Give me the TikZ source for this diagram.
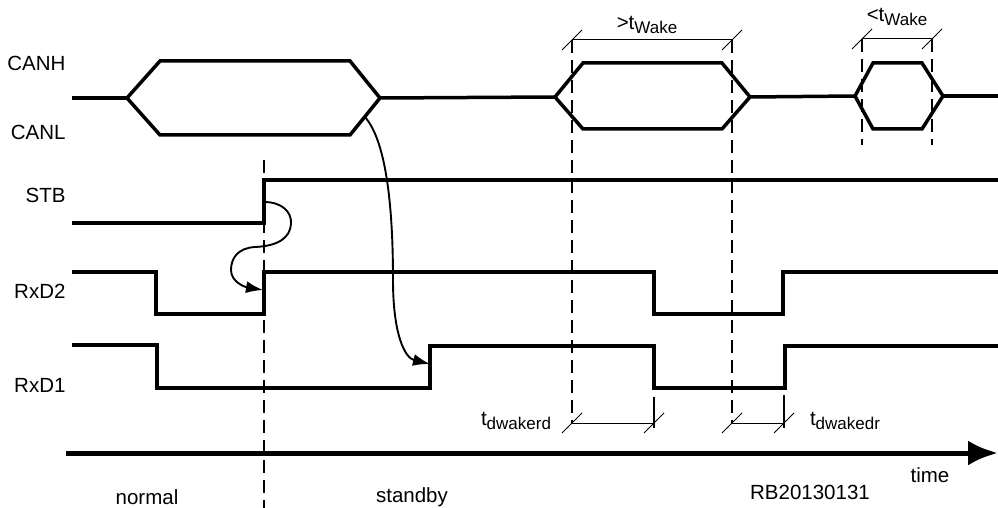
\documentclass[tikz,border=0pt]{standalone}
\usepackage{fontspec}
\setmainfont{Liberation Sans}
\usetikzlibrary{arrows.meta}
\newcommand\lowsub[1]{\raisebox{-4.5pt}{\fontsize{17}{17}\selectfont #1}}

\begin{document}
\begin{tikzpicture}[x=1pt,y=-1pt,
  sig/.style={line width=3.5pt},
  guide/.style={line width=2.3pt,dash pattern=on 13pt off 7pt},
  dimline/.style={line width=1pt},
  ext/.style={line width=2.5pt},
  cause/.style={line width=1.9pt,-{Latex[length=17pt,width=12pt]}},
  every node/.style={font=\fontsize{20.5}{24}\selectfont}]
\useasboundingbox (0,0) rectangle (998,508);

\node[anchor=east] (canh) at (69,63) {CANH};
\node[anchor=east] (canl) at (69,132) {CANL};
\node[anchor=east] (stb) at (69,195) {STB};
\node[anchor=east] (rxdtwo) at (69,291) {RxD2};
\node[anchor=east] (rxdone) at (69,385) {RxD1};

\draw[sig] (72,98) -- (127,98);
\draw[sig] (127,98) -- (160,61) -- (350,61) -- (380,98) -- (350,135) -- (160,135) -- cycle;
\draw[sig] (380,98) -- (555,97);
\draw[sig] (555,97) -- (583,63) -- (722,63) -- (750,97) -- (722,129) -- (583,129) -- cycle;
\draw[sig] (750,97) -- (855,96);
\draw[sig] (855,96) -- (873,63) -- (922,63) -- (943,96) -- (922,129) -- (873,129) -- cycle;
\draw[sig] (943,96) -- (998,96);

\draw[sig] (72,223) -- (264,223) -- (264,180) -- (998,180);
\draw[sig] (72,272) -- (156,272) -- (156,314) -- (264,314) -- (264,272) -- (654,272)
  -- (654,314) -- (783,314) -- (783,272) -- (998,272);
\draw[sig] (72,345) -- (157,345) -- (157,388) -- (430,388) -- (430,346) -- (654,346)
  -- (654,388) -- (785,388) -- (785,346) -- (998,346);

\draw[guide] (264,160) -- (264,508);
\draw[guide] (572,40) -- (572,423);
\draw[guide] (732,40) -- (732,423);
\draw[guide] (862,39) -- (862,145);
\draw[guide] (932,39) -- (932,145);

\draw[dimline] (572,40) -- (732,40);
\draw[dimline] (862,39) -- (932,39);
\draw[dimline] (572,423) -- (654,423);
\draw[dimline] (732,423) -- (784,423);
\draw[ext] (654,397) -- (654,428);
\draw[ext] (784,395) -- (784,428);
\foreach \x/\y in {572/40,732/40,862/39,932/39,572/423,654/423,732/423,784/423}
  \draw[dimline] (\x-10,\y+10) -- (\x+10,\y-10);

\node (twakelong) at (647,25) {>t\lowsub{Wake}};
\node (twakeshort) at (897,17) {<t\lowsub{Wake}};
\node (tdwakerd) at (516,421) {t\lowsub{dwakerd}};
\node (tdwakedr) at (845,421) {t\lowsub{dwakedr}};

\coordinate (stbrise) at (264,202);
\coordinate (rxdtworise) at (263,290);
\coordinate (canlend) at (365,117);
\coordinate (rxdonerise) at (430,364);
\draw[cause] (stbrise) .. controls (282,202) and (292,212) .. (291,224)
  .. controls (290,238) and (278,246) .. (255,247)
  .. controls (238,248) and (231,258) .. (231,270)
  .. controls (231,282) and (245,287) .. (rxdtworise);
\draw[cause] (canlend) .. controls (385,140) and (393,200) .. (393,280)
  .. controls (393,335) and (405,358) .. (rxdonerise);

\draw[line width=5pt,-{Latex[length=30pt,width=25pt]}] (66,453) -- (998,453);
\node (time) at (930,475) {time};
\node (rbnum) at (810,492) {RB20130131};
\node (normal) at (147,497) {normal};
\node (standby) at (412,497) {standby};
\end{tikzpicture}
\end{document}
